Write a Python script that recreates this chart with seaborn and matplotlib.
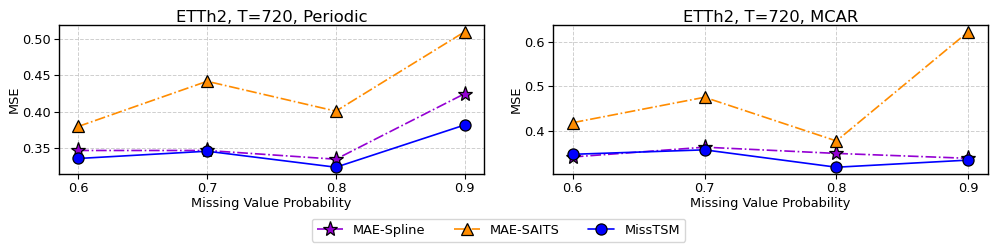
# MSE vs missing probability, ETTh2 T=720
import pandas as pd
import matplotlib
matplotlib.use("Agg")
import matplotlib.pyplot as plt
import seaborn as sns

probs = [0.6, 0.7, 0.8, 0.9]
methods = ["MAE-Spline", "MAE-SAITS", "MissTSM"]

periodic_spline = [0.347, 0.347, 0.335, 0.425]
periodic_saits = [0.380, 0.442, 0.401, 0.510]
periodic_misstsm = [0.336, 0.346, 0.324, 0.382]

mcar_spline = [0.341, 0.363, 0.349, 0.338]
mcar_saits = [0.418, 0.475, 0.377, 0.622]
mcar_misstsm = [0.347, 0.357, 0.318, 0.334]

styles = {
    "MAE-Spline": dict(color="darkviolet", marker="*", ls="-.", ms=11),
    "MAE-SAITS": dict(color="darkorange", marker="^", ls="-.", ms=8),
    "MissTSM": dict(color="blue", marker="o", ls="-", ms=8),
}


def make_df(spline, saits, misstsm):
    rows = []
    for m, vals in zip(methods, [spline, saits, misstsm]):
        for p, v in zip(probs, vals):
            rows.append({"prob": p, "mse": v, "method": m})
    return pd.DataFrame(rows)


panels = [
    ("ETTh2, T=720, Periodic", make_df(periodic_spline, periodic_saits, periodic_misstsm)),
    ("ETTh2, T=720, MCAR", make_df(mcar_spline, mcar_saits, mcar_misstsm)),
]

sns.set_style("ticks", {"axes.edgecolor": "black", "text.color": "black",
                        "axes.labelcolor": "black", "xtick.color": "black",
                        "ytick.color": "black"})
plt.rcParams["font.family"] = ["DejaVu Sans"]

fig, axes = plt.subplots(1, 2, figsize=(9.97, 2.49), dpi=100)

for ax, (title, df) in zip(axes, panels):
    for m in methods:
        st = styles[m]
        sub = df[df["method"] == m]
        sns.lineplot(data=sub, x="prob", y="mse", ax=ax, color=st["color"],
                     marker=st["marker"], linestyle=st["ls"], markersize=st["ms"],
                     linewidth=1.2, markeredgecolor="black", markeredgewidth=0.9,
                     label=m, legend=False)
    ax.set_title(title, fontsize=11.8, pad=2)
    ax.set_xlabel("Missing Value Probability", fontsize=9.3, labelpad=1)
    ax.set_ylabel("MSE", fontsize=9.3, labelpad=1)
    ax.set_xticks(probs)
    ax.tick_params(labelsize=9.3, length=3.5, pad=2.5)
    ax.grid(True, linestyle="--", color="#bbbbbb", alpha=0.7, linewidth=0.7)
    for s in ax.spines.values():
        s.set_linewidth(1.0)

axes[0].set_yticks([0.35, 0.40, 0.45, 0.50])
axes[0].set_yticklabels(["0.35", "0.40", "0.45", "0.50"])

axes[0].set_position([59 / 997, 1 - 174 / 249, 425 / 997, 149 / 249])
axes[1].set_position([553 / 997, 1 - 174 / 249, 435 / 997, 149 / 249])

handles, labels = axes[0].get_legend_handles_labels()
fig.legend(handles, labels, loc="lower center", ncol=3, fontsize=9.3,
           bbox_to_anchor=(0.5, 0.028), borderaxespad=0, columnspacing=2.2)

fig.savefig("out.png", dpi=100)
